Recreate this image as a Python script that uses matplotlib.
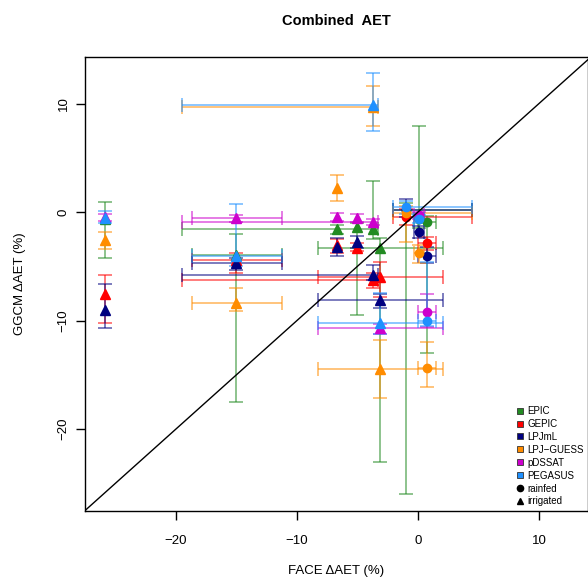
import numpy as np
import matplotlib
matplotlib.use("Agg")
import matplotlib.pyplot as plt
from matplotlib.lines import Line2D

plt.rcParams['font.family'] = ['Liberation Sans', 'DejaVu Sans']

nan = np.nan

# FACE sites (observed change in AET, %), with the observed range
site_x = [-25.9, -15.0, -6.7, -5.0, -3.7, -3.1, -1.0, 0.1, 0.75]
site_xlo = [nan, -18.7, nan, nan, -19.5, -8.3, -2.1, -0.3, 0.0]
site_xhi = [nan, -11.2, nan, nan, -3.3, 2.1, 4.5, 0.5, 1.5]
site_irrigated = [True, True, True, True, True, True, False, False, False]

models = ["EPIC", "GEPIC", "LPJmL", "LPJ\u2212GUESS", "pDSSAT", "PEGASUS"]
model_colors = ["#228B22", "#FF0000", "#000080", "#FF8C00", "#CD00CD", "#1E90FF"]

# simulated change in AET per model and site, with min / max
epic_y = [-0.6, -4.0, -1.6, -1.4, -1.6, -3.3, 0.2, -0.6, -0.9]
epic_lo = [-4.2, -17.5, -2.0, -9.5, -2.5, -23.0, -26.0, -1.5, -13.0]
epic_hi = [0.9, -2.0, -1.2, -1.0, 2.9, -2.4, 0.8, 7.9, -0.4]

gepic_y = [-7.6, -4.4, -3.0, -3.3, -6.3, -6.0, -0.45, nan, -2.85]
gepic_lo = [-10.2, -5.6, -3.8, -3.6, -7.0, -7.8, -1.2, nan, -3.5]
gepic_hi = [-5.8, -3.8, -2.5, -2.9, -5.6, -4.6, 0.3, nan, -2.3]

lpjml_y = [-9.0, -4.7, -3.2, -2.75, -5.8, -8.1, 0.2, -1.85, -4.05]
lpjml_lo = [-10.7, -5.3, -4.05, -3.3, -6.3, -8.85, -0.5, -2.4, -4.7]
lpjml_hi = [-6.6, -4.2, -2.4, -2.2, -4.9, -7.6, 1.2, -1.3, -3.2]

guess_y = [-2.6, -8.4, 2.2, nan, 9.7, -14.5, -0.1, -3.8, -14.4]
guess_lo = [-3.4, -9.1, 1.0, nan, 7.9, -17.1, -2.8, -4.7, -16.1]
guess_hi = [-1.85, -7.0, 3.4, nan, 11.6, -11.8, 0.6, -3.0, -12.0]

pdssat_y = [-0.5, -0.55, -0.45, -0.55, -0.9, -10.7, nan, -0.3, -9.2]
pdssat_lo = [-0.8, -0.9, -0.8, -0.9, -1.2, -11.2, nan, -0.6, -10.6]
pdssat_hi = [-0.2, -0.3, -0.1, -0.2, -0.6, -10.3, nan, 0.0, -7.6]

pegasus_y = [-0.55, -4.1, nan, nan, 9.85, -10.2, 0.45, -0.65, -10.0]
pegasus_lo = [-1.0, -5.0, nan, nan, 7.45, -11.2, -0.2, -1.0, -10.5]
pegasus_hi = [0.1, 0.75, nan, nan, 12.8, -7.5, 1.0, -0.3, -4.6]

model_y = [epic_y, gepic_y, lpjml_y, guess_y, pdssat_y, pegasus_y]
model_lo = [epic_lo, gepic_lo, lpjml_lo, guess_lo, pdssat_lo, pegasus_lo]
model_hi = [epic_hi, gepic_hi, lpjml_hi, guess_hi, pdssat_hi, pegasus_hi]

W, H = 588, 581
fig = plt.figure(figsize=(W / 100, H / 100), dpi=100)
ax = fig.add_axes([85 / W, 70 / H, (588 - 85) / W, (511 - 57) / H])

sx = np.array(site_x)
sxlo = np.array(site_xlo)
sxhi = np.array(site_xhi)
irr = np.array(site_irrigated)

# error bars first, points on top
for y, lo, hi, col in zip(model_y, model_lo, model_hi, model_colors):
    y, lo, hi = np.array(y), np.array(lo), np.array(hi)
    ok = ~np.isnan(y)
    ax.errorbar(sx[ok], y[ok], yerr=[y[ok] - lo[ok], hi[ok] - y[ok]], fmt="none",
                ecolor=col, elinewidth=1.2, capsize=5, capthick=1.2, alpha=0.6)
    okx = ok & ~np.isnan(sxlo)
    ax.errorbar(sx[okx], y[okx], xerr=[sx[okx] - sxlo[okx], sxhi[okx] - sx[okx]], fmt="none",
                ecolor=col, elinewidth=1.2, capsize=5, capthick=1.2, alpha=0.6)

for y, col in zip(model_y, model_colors):
    y = np.array(y)
    ax.plot(sx[irr], y[irr], "^", color=col, ms=7, ls="none")
    ax.plot(sx[~irr], y[~irr], "o", color=col, ms=6, ls="none")

ax.plot([-40, 40], [-40, 40], color="black", lw=1)

ax.set_xlim(-27.52, 14.05)
ax.set_ylim(-27.56, 14.29)
ax.set_xticks([-20, -10, 0, 10])
ax.set_yticks([-20, -10, 0, 10])
ax.set_xticklabels(["\u221220", "\u221210", "0", "10"])
ax.set_yticklabels(["\u221220", "\u221210", "0", "10"], rotation=90, va="center")
ax.tick_params(axis="both", direction="out", length=6.5, width=1, labelsize=9.5)
ax.tick_params(axis="x", pad=11)
ax.tick_params(axis="y", pad=4.5)
for s in ax.spines.values():
    s.set_linewidth(1)

fig.text(336 / W, 1 - 21 / H, "Combined  AET", ha="center", va="center",
         fontsize=10.5, fontweight="bold")
fig.text(336 / W, 1 - 571 / H, "FACE \u0394AET (%)", ha="center", va="center", fontsize=9.5)
fig.text(20 / W, 1 - 284 / H, "GGCM \u0394AET (%)", ha="center", va="center",
         fontsize=9.5, rotation=90)

handles = [Line2D([], [], marker="s", ls="none", color=c, markeredgecolor="#333333",
                  markeredgewidth=0.6, ms=5) for c in model_colors]
handles += [Line2D([], [], marker="o", ls="none", color="black", ms=4.5),
            Line2D([], [], marker="^", ls="none", color="black", ms=5)]
labels = models + ["rainfed", "irrigated"]
fig.legend(handles, labels, loc="upper left", bbox_to_anchor=(516 / W, 1 - 406 / H),
           frameon=False, fontsize=7, handlelength=0.8, handletextpad=0.35,
           labelspacing=0.3, borderpad=0, borderaxespad=0)

fig.savefig("out.png", dpi=100)
